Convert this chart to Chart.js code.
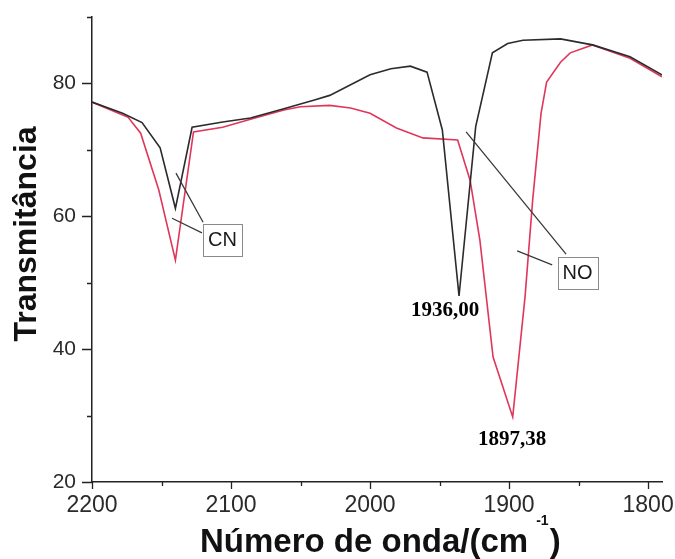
<!DOCTYPE html>
<html lang="pt">
<head>
<meta charset="utf-8">
<title>Espectro IV - CN / NO</title>
<script src="https://cdn.jsdelivr.net/npm/chart.js@4.4.1/dist/chart.umd.min.js"></script>
<style>
    html, body { margin: 0; padding: 0; background: #fff; }
    #wrap { width: 675px; height: 559px; }
</style>
</head>
<body>
<div id="wrap"><canvas id="irChart" width="675" height="559"></canvas></div>
<script>
// Spectrum 1 (black trace)
const blackWavenumbers = [2200, 2178, 2164, 2151, 2140, 2128, 2106, 2086, 2062, 2040, 2029, 2000, 1985, 1971, 1959, 1948, 1936.00, 1924, 1912, 1901, 1890, 1863, 1840, 1813, 1790];
const blackTransmittance = [77.2, 75.5, 74.1, 70.3, 61.2, 73.4, 74.2, 74.8, 76.2, 77.5, 78.2, 81.3, 82.2, 82.6, 81.7, 73.0, 48.0, 73.5, 84.6, 86.0, 86.5, 86.7, 85.8, 84.0, 81.3];

// Spectrum 2 (red trace)
const redWavenumbers = [2200, 2174, 2165, 2152, 2140, 2127, 2106, 2086, 2062, 2050, 2029, 2014, 2000, 1981, 1962, 1937, 1928, 1921, 1911.5, 1897.38, 1888.5, 1883, 1877, 1873, 1863, 1856, 1840, 1813, 1790];
const redTransmittance = [77.2, 74.9, 72.5, 64.0, 53.4, 72.7, 73.4, 74.6, 76.0, 76.5, 76.7, 76.3, 75.5, 73.3, 71.8, 71.5, 65.4, 56.4, 38.8, 29.8, 47.9, 62.5, 75.5, 80.2, 83.2, 84.6, 85.8, 83.8, 81.0];

// Axis ticks
const xMajorTicks = [2200, 2100, 2000, 1900, 1800];
const xMinorTicks = [2150, 2050, 1950, 1850];
const yMajorTicks = [20, 40, 60, 80];
const yMinorTicks = [30, 50, 70, 90];

// Peak labels and where they sit (data units)
const peakLabels = ['1936,00', '1897,38'];
const peakLabelX = [1946, 1897.8];
const peakLabelY = [45.0, 25.6];

// Boxed band labels with their leader lines (data units)
const bandLabels = ['CN', 'NO'];
const bandLabelX = [2106.1, 1850.7];
const bandLabelY = [56.5, 51.5];
const leaderLines = [
    [2139.6, 66.5, 2120.1, 59.1],
    [2142.4, 59.7, 2120.9, 57.5],
    [1930.9, 72.7, 1859.0, 54.3],
    [1894.2, 54.8, 1869.0, 52.7]
];

const sansFont = '"Liberation Sans", Arial, sans-serif';
const serifFont = '"Liberation Serif", "Times New Roman", serif';
const axisColor = '#222';

function toPoints(xs, ys) {
    return xs.map((x, i) => ({ x: x, y: ys[i] }));
}

// keep the plot box fixed: no extra room for edge labels
function clearPadding(scale) {
    scale.paddingTop = 0;
    scale.paddingBottom = 0;
    scale.paddingLeft = 0;
    scale.paddingRight = 0;
}

// Ticks, labels, leader lines and axis titles
const decorPlugin = {
    id: 'irDecor',
    afterDraw(chart) {
        const { ctx, chartArea } = chart;
        const xs = chart.scales.x;
        const ys = chart.scales.y;
        ctx.save();

        // tick marks (outside), major longer than minor
        ctx.strokeStyle = axisColor;
        ctx.lineWidth = 1.3;
        ctx.beginPath();
        xMajorTicks.forEach(v => {
            const px = Math.round(xs.getPixelForValue(v)) + 0.5;
            ctx.moveTo(px, chartArea.bottom);
            ctx.lineTo(px, chartArea.bottom + 7);
        });
        xMinorTicks.forEach(v => {
            const px = Math.round(xs.getPixelForValue(v)) + 0.5;
            ctx.moveTo(px, chartArea.bottom);
            ctx.lineTo(px, chartArea.bottom + 4);
        });
        yMajorTicks.forEach(v => {
            const py = Math.round(ys.getPixelForValue(v)) + 0.5;
            ctx.moveTo(chartArea.left, py);
            ctx.lineTo(chartArea.left - 10, py);
        });
        yMinorTicks.forEach(v => {
            const py = Math.round(ys.getPixelForValue(v)) + 0.5;
            ctx.moveTo(chartArea.left, py);
            ctx.lineTo(chartArea.left - 5, py);
        });
        ctx.stroke();

        // leader lines
        ctx.strokeStyle = '#3a3a3a';
        ctx.lineWidth = 1.3;
        ctx.beginPath();
        leaderLines.forEach(l => {
            ctx.moveTo(xs.getPixelForValue(l[0]), ys.getPixelForValue(l[1]));
            ctx.lineTo(xs.getPixelForValue(l[2]), ys.getPixelForValue(l[3]));
        });
        ctx.stroke();

        // boxed labels
        ctx.font = '20px ' + sansFont;
        ctx.textAlign = 'center';
        ctx.textBaseline = 'middle';
        bandLabels.forEach((txt, i) => {
            const cx = xs.getPixelForValue(bandLabelX[i]);
            const cy = ys.getPixelForValue(bandLabelY[i]);
            const w = ctx.measureText(txt).width + 10;
            const h = 32;
            ctx.fillStyle = '#fff';
            ctx.fillRect(cx - w / 2, cy - h / 2, w, h);
            ctx.strokeStyle = '#8a8a8a';
            ctx.lineWidth = 1;
            ctx.strokeRect(Math.round(cx - w / 2) + 0.5, Math.round(cy - h / 2) + 0.5, Math.round(w), h);
            ctx.fillStyle = '#1a1a1a';
            ctx.fillText(txt, cx, cy + 1);
        });

        // peak values
        ctx.font = 'bold 21px ' + serifFont;
        ctx.textBaseline = 'alphabetic';
        ctx.fillStyle = '#000';
        peakLabels.forEach((txt, i) => {
            ctx.fillText(txt, xs.getPixelForValue(peakLabelX[i]), ys.getPixelForValue(peakLabelY[i]));
        });

        // y axis title
        ctx.font = 'bold 32px ' + sansFont;
        ctx.fillStyle = '#111';
        ctx.save();
        ctx.translate(chartArea.left - 56, chartArea.top + 217);
        ctx.rotate(-Math.PI / 2);
        ctx.textAlign = 'center';
        ctx.fillText('Transmitância', 0, 0);
        ctx.restore();

        // x axis title with superscript
        const mainText = 'Número de onda/(cm';
        const baseY = chartArea.bottom + 70;
        let tx = chartArea.left + 108;
        ctx.textAlign = 'left';
        ctx.font = 'bold 33px ' + sansFont;
        ctx.fillText(mainText, tx, baseY);
        tx += ctx.measureText(mainText).width + 8;
        ctx.font = 'bold 14px ' + sansFont;
        ctx.fillText('-1', tx, baseY - 27);
        tx += ctx.measureText('-1').width + 1;
        ctx.font = 'bold 33px ' + sansFont;
        ctx.fillText(')', tx, baseY);

        ctx.restore();
    }
};

const irCtx = document.getElementById('irChart');
new Chart(irCtx, {
    type: 'line',
    data: {
        datasets: [{
            label: 'black',
            data: toPoints(blackWavenumbers, blackTransmittance),
            borderColor: '#2b2b2b',
            borderWidth: 1.6,
            pointRadius: 0,
            tension: 0,
            fill: false
        }, {
            label: 'red',
            data: toPoints(redWavenumbers, redTransmittance),
            borderColor: '#e0365a',
            borderWidth: 1.6,
            pointRadius: 0,
            tension: 0,
            fill: false
        }]
    },
    options: {
        responsive: false,
        animation: false,
        events: [],
        layout: {
            padding: { left: 0, right: 13, top: 17, bottom: 0 }
        },
        plugins: {
            legend: { display: false },
            tooltip: { enabled: false }
        },
        scales: {
            x: {
                type: 'linear',
                reverse: true,
                min: 1790,
                max: 2200,
                afterBuildTicks: scale => {
                    scale.ticks = xMajorTicks.map(v => ({ value: v }));
                },
                afterFit: scale => {
                    scale.height = 77;
                    clearPadding(scale);
                },
                grid: { display: false, drawTicks: false },
                border: { display: true, color: axisColor, width: 1.5 },
                ticks: {
                    padding: 10,
                    color: '#2a2a2a',
                    font: { size: 23, family: sansFont },
                    maxRotation: 0,
                    callback: value => String(value)
                }
            },
            y: {
                type: 'linear',
                min: 20,
                max: 90,
                afterBuildTicks: scale => {
                    scale.ticks = yMajorTicks.map(v => ({ value: v }));
                },
                afterFit: scale => {
                    scale.width = 92;
                    clearPadding(scale);
                },
                grid: { display: false, drawTicks: false },
                border: { display: true, color: axisColor, width: 1.5 },
                ticks: {
                    padding: 16,
                    color: '#2a2a2a',
                    font: { size: 21, family: sansFont },
                    callback: value => String(value)
                }
            }
        }
    },
    plugins: [decorPlugin]
});
</script>
</body>
</html>
